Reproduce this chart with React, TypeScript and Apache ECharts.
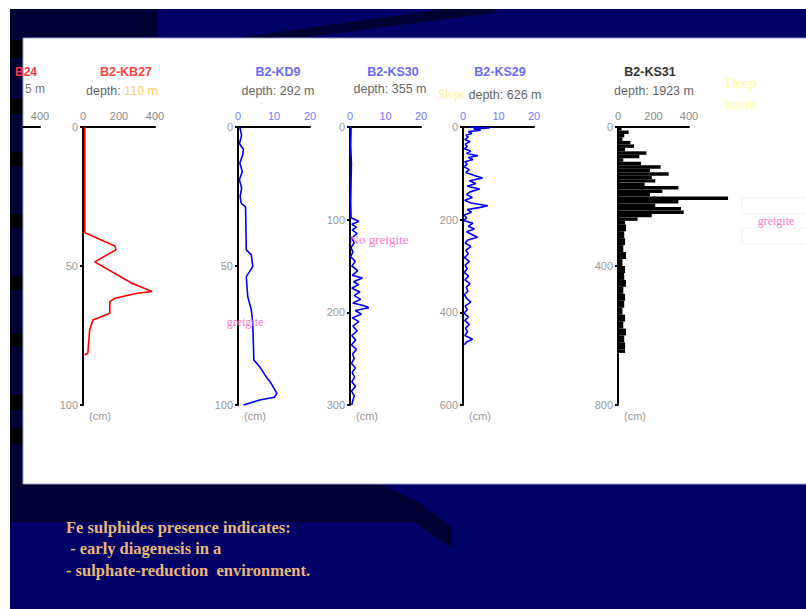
import React, { useEffect, useRef } from 'react';
import * as echarts from 'echarts';

// ---------- data ----------
const panelTitles = ['B2-KB27', 'B2-KD9', 'B2-KS30', 'B2-KS29', 'B2-KS31'];
const panelDepths = ['110 m', '292 m', '355 m', '626 m', '1923 m'];

// partially visible left profile (value, depth)
const kb24Value = [224, 253, 272, 282, 253, 224];
const kb24Depth = [62, 64, 66, 68.5, 70, 71.5];

const kb27Depth = [0, 38, 38.2, 42.8, 44.2, 48.5, 56.2, 59.2, 59.8, 61.6, 62.8, 67, 69.4, 73, 81.4, 82];
const kb27Value = [10, 10, 18, 177, 183, 65, 272, 384, 300, 177, 149, 149, 55, 37, 27, 8];

const kd9Depth = [0, 3, 6, 8, 10, 13, 16, 19, 22, 25, 27.5, 28.7, 44.2, 46, 50.2, 52, 53.8, 61, 65.8, 70.6, 83.8, 86.2, 89.8, 92.2, 95.8, 97.2, 98.2, 100];
const kd9Value = [0.5, 1.0, 0.4, 1.5, 1.3, 0.5, 1.2, 0.4, 1.0, 0.6, 0.9, 2.1, 2.3, 3.7, 4.1, 3.2, 2.3, 2.7, 3.7, 4.1, 4.4, 6.0, 7.8, 9.2, 10.8, 10.1, 6.0, 1.5];

const ks30Depth = [0, 20, 40, 60, 80, 98, 102, 105, 108, 111, 115, 120, 125, 130, 135, 140, 145, 150, 155, 160, 163, 167, 170, 174, 178, 182, 186, 190, 193, 195, 198, 202, 206, 210, 215, 220, 225, 230, 235, 240, 245, 250, 255, 260, 265, 270, 275, 280, 285, 290, 295, 300];
const ks30Value = [0.3, 0.2, 0.4, 0.3, 0.2, 0.3, 2.5, 0.5, 1.8, 0.6, 2.0, 0.4, 1.2, 0.3, 0.8, 0.2, 1.5, 0.5, 2.2, 0.6, 3.5, 1.0, 2.4, 0.5, 2.8, 1.2, 3.0, 0.8, 4.0, 5.3, 1.5, 3.2, 0.6, 2.5, 0.8, 2.0, 0.5, 1.6, 0.4, 1.8, 0.7, 1.2, 0.4, 1.5, 0.6, 1.3, 0.5, 1.6, 0.4, 1.2, 0.8, 0.5];

const ks29Depth = [0, 2, 4, 7, 10, 14, 18, 22, 27, 32, 37, 42, 47, 52, 57, 62, 66, 70, 75, 80, 86, 92, 98, 104, 110, 116, 122, 128, 134, 140, 146, 152, 158, 164, 170, 174, 178, 184, 190, 196, 202, 208, 214, 220, 226, 232, 238, 244, 250, 258, 266, 274, 282, 290, 298, 306, 314, 322, 330, 338, 346, 354, 362, 370, 378, 386, 394, 402, 410, 418, 426, 434, 442, 450, 458, 464, 470];
const ks29Value = [2, 7.5, 3, 5, 1.5, 2.5, 0.8, 1.5, 0.5, 2.0, 0.6, 1.2, 0.4, 2.2, 1.0, 4.2, 1.5, 2.8, 0.5, 1.2, 0.3, 1.8, 0.8, 3.0, 5.5, 1.8, 3.6, 1.2, 4.7, 2.0, 1.0, 2.6, 0.5, 2.2, 7.0, 4.5, 1.2, 2.4, 0.3, 1.0, 0.2, 2.8, 1.5, 3.2, 1.0, 2.5, 4.1, 1.4, 0.6, 2.2, 0.8, 1.5, 0.4, 1.8, 0.6, 1.2, 0.3, 1.6, 0.5, 2.0, 0.9, 1.4, 0.4, 1.0, 2.2, 0.6, 1.2, 0.3, 1.5, 0.5, 1.8, 0.7, 1.3, 0.5, 2.7, 1.0, 0.4];

const ks31Edges = [0, 10, 20, 30, 40, 50, 60, 70, 80, 90, 100, 110, 120, 130, 140, 150, 160, 170, 180, 190, 200, 210, 220, 230, 240, 250, 260, 270, 280, 300, 320, 340, 360, 380, 400, 420, 440, 460, 480, 500, 520, 540, 560, 580, 600, 620, 640, 650];
const ks31Value = [20, 60, 35, 25, 70, 90, 40, 160, 120, 30, 130, 240, 180, 285, 190, 210, 150, 340, 250, 180, 620, 340, 210, 355, 370, 190, 110, 40, 45, 35, 40, 30, 45, 25, 40, 35, 45, 30, 40, 35, 25, 40, 30, 45, 35, 40, 40];

// axis ranges: [xMin, xMax, xInterval, yMax, yInterval]
const axisRanges: number[][] = [
  [300, 400, 100, 100, 50],
  [0, 400, 200, 100, 50],
  [0, 20, 10, 100, 50],
  [0, 20, 10, 300, 100],
  [0, 20, 10, 600, 200],
  [0, 400, 200, 800, 400],
];

const bottomLines = ['Fe sulphides presence indicates:', ' - early diagenesis in a', '- sulphate-reduction  environment.'];

// ---------- layout ----------
const GRID_TOP = 127;
const GRID_H = 278;
const gridLayout = [
  { left: 23, width: 17 },
  { left: 83, width: 72 },
  { left: 238, width: 72 },
  { left: 350, width: 71 },
  { left: 463, width: 71 },
  { left: 618, width: 71 },
];
const labelColors = ['#888', '#888', '#7777ff', '#7777ff', '#7777ff', '#888'];
const titleColors = ['#ff3344', '#ff4444', '#6a6aff', '#6a6aff', '#6a6aff', '#333'];
const titlePos = [
  [126, 72, 122, 91],
  [278, 72, 278, 91],
  [393, 72, 390, 89],
  [500, 72, 505, 95],
  [650, 72, 654, 91],
];
const stripBars = [[40, 58], [99, 114], [152, 166], [214, 228], [276, 290], [333, 347], [395, 410], [428, 444]];

const SANS = '"Liberation Sans", Arial, sans-serif';
const SERIF = '"Liberation Serif", "Times New Roman", serif';

function pairs(v: number[], d: number[]) {
  return d.map((dd, i) => [v[i], dd]);
}

export default function App() {
  const ref = useRef<HTMLDivElement>(null);

  useEffect(() => {
    if (!ref.current) return;
    const chart = echarts.init(ref.current, null, { renderer: 'svg' });

    const grids = gridLayout.map((g) => ({ left: g.left, width: g.width, top: GRID_TOP, height: GRID_H, containLabel: false }));
    const xAxes = axisRanges.map((r, i) => ({
      type: 'value',
      gridIndex: i,
      position: 'top',
      min: r[0],
      max: r[1],
      interval: r[2],
      z: 5,
      axisLine: { show: true, onZero: false, lineStyle: { color: '#000', width: 2 } },
      axisTick: { show: false },
      splitLine: { show: false },
      axisLabel: { color: labelColors[i], fontSize: 11, fontFamily: SANS, margin: 6, showMinLabel: i !== 0 },
    }));
    const yAxes = axisRanges.map((r, i) => ({
      type: 'value',
      gridIndex: i,
      show: i !== 0,
      inverse: true,
      min: 0,
      max: r[3],
      interval: r[4],
      z: 5,
      axisLine: { show: true, onZero: false, lineStyle: { color: '#000', width: 2 } },
      axisTick: { show: true, length: 3, lineStyle: { color: '#000', width: 2 } },
      splitLine: { show: false },
      axisLabel: { color: '#999', fontSize: 11, fontFamily: SANS, margin: 5 },
    }));

    const lineSeries = (idx: number, data: number[][], color: string) => ({
      type: 'line',
      xAxisIndex: idx,
      yAxisIndex: idx,
      data,
      showSymbol: false,
      symbol: 'none',
      clip: false,
      z: 6,
      lineStyle: { color, width: 1.6 },
    });

    const ks31Data = ks31Value.map((v, i) => [ks31Edges[i], ks31Edges[i + 1], v]);

    const graphics: any[] = [];
    // slide background
    graphics.push({ type: 'rect', z: 0, shape: { x: 10, y: 9, width: 796, height: 600 }, style: { fill: '#000066' } });
    graphics.push({ type: 'rect', z: 0, shape: { x: 10, y: 9, width: 147, height: 29 }, style: { fill: '#000033' } });
    graphics.push({ type: 'polygon', z: 0, shape: { points: [[236, 38], [300, 38], [385, 27], [495, 13], [495, 9], [445, 9], [350, 22]] }, style: { fill: '#000033' } });
    graphics.push({ type: 'rect', z: 0, shape: { x: 10, y: 38, width: 13, height: 447 }, style: { fill: '#000033' } });
    stripBars.forEach(([a, b]) => {
      graphics.push({ type: 'rect', z: 0, shape: { x: 10, y: a, width: 13, height: b - a }, style: { fill: '#000000' } });
    });
    graphics.push({ type: 'polygon', z: 0, shape: { points: [[10, 484], [380, 484], [420, 503], [452, 528], [452, 547], [440, 540], [414, 522], [10, 522]] }, style: { fill: '#000033' } });
    graphics.push({ type: 'rect', z: 0, shape: { x: 23, y: 38, width: 790, height: 446 }, style: { fill: '#ffffff', stroke: '#9a9acc', lineWidth: 1 } });
    // faint boxes at right
    graphics.push({ type: 'rect', z: 1, shape: { x: 742, y: 198, width: 70, height: 16 }, style: { fill: 'none', stroke: '#f0f0f0', lineWidth: 1 } });
    graphics.push({ type: 'rect', z: 1, shape: { x: 742, y: 228, width: 70, height: 16 }, style: { fill: 'none', stroke: '#f0f0f0', lineWidth: 1 } });

    // partial left panel texts
    graphics.push({ type: 'text', z: 10, x: 37, y: 72, style: { text: 'B24', fill: titleColors[0], font: `bold 12px ${SANS}`, align: 'right', verticalAlign: 'middle' } });
    graphics.push({ type: 'text', z: 10, x: 45, y: 89, style: { text: '5 m', fill: '#777', font: `12px ${SANS}`, align: 'right', verticalAlign: 'middle' } });

    // titles
    panelTitles.forEach((t, i) => {
      const p = titlePos[i];
      graphics.push({ type: 'text', z: 10, x: p[0], y: p[1], style: { text: t, fill: titleColors[i + 1], font: `bold 12.5px ${SANS}`, align: 'center', verticalAlign: 'middle' } });
      graphics.push({
        type: 'text', z: 10, x: p[2], y: p[3],
        style: {
          text: `{a|depth: }{${i === 0 ? 'b' : 'a'}|${panelDepths[i]}}`,
          align: 'center', verticalAlign: 'middle',
          rich: {
            a: { fill: '#666', font: `12.5px ${SANS}` },
            b: { fill: '#ffcc66', font: `12.5px ${SANS}` },
          },
        },
      });
      const g = gridLayout[i + 1];
      graphics.push({ type: 'text', z: 10, x: g.left + 6, y: GRID_TOP + GRID_H + 11, style: { text: '(cm)', fill: '#999', font: `11px ${SANS}`, align: 'left', verticalAlign: 'middle' } });
    });

    // annotations
    graphics.push({ type: 'text', z: 10, x: 245, y: 322, style: { text: 'greigite', fill: '#ff77cc', font: `12px ${SERIF}`, align: 'center', verticalAlign: 'middle' } });
    graphics.push({ type: 'text', z: 10, x: 379, y: 239, style: { text: 'No greigite', fill: '#ff77cc', font: `13px ${SERIF}`, align: 'center', verticalAlign: 'middle' } });
    graphics.push({ type: 'text', z: 10, x: 776, y: 221, style: { text: 'greigite', fill: '#ff77cc', font: `12px ${SERIF}`, align: 'center', verticalAlign: 'middle' } });
    graphics.push({ type: 'text', z: 10, x: 438, y: 94, style: { text: 'Slope', fill: '#ffee99', font: `12px ${SERIF}`, align: 'left', verticalAlign: 'middle' } });
    graphics.push({ type: 'text', z: 10, x: 725, y: 83, style: { text: 'Deep', fill: '#ffff99', font: `15px ${SERIF}`, align: 'left', verticalAlign: 'middle' } });
    graphics.push({ type: 'text', z: 10, x: 725, y: 104, style: { text: 'basin', fill: '#ffff99', font: `15px ${SERIF}`, align: 'left', verticalAlign: 'middle' } });

    bottomLines.forEach((t, i) => {
      graphics.push({ type: 'text', z: 10, x: 66, y: 527 + i * 21.5, style: { text: t, fill: '#e9b679', font: `bold 16.5px ${SERIF}`, align: 'left', verticalAlign: 'middle' } });
    });

    chart.setOption({
      animation: false,
      backgroundColor: '#ffffff',
      grid: grids,
      xAxis: xAxes,
      yAxis: yAxes,
      graphic: { elements: graphics },
      series: [
        lineSeries(0, pairs(kb24Value, kb24Depth), '#ff0000'),
        lineSeries(1, pairs(kb27Value, kb27Depth), '#ff0000'),
        lineSeries(2, pairs(kd9Value, kd9Depth), '#0000ff'),
        lineSeries(3, pairs(ks30Value, ks30Depth), '#0000ff'),
        lineSeries(4, pairs(ks29Value, ks29Depth), '#0000ff'),
        {
          type: 'custom',
          xAxisIndex: 5,
          yAxisIndex: 5,
          z: 6,
          encode: { x: 2, y: [0, 1] },
          data: ks31Data,
          renderItem: (_params: any, api: any) => {
            const p0 = api.coord([0, api.value(0)]);
            const p1 = api.coord([api.value(2), api.value(1)]);
            return {
              type: 'rect',
              shape: { x: p0[0], y: p0[1], width: p1[0] - p0[0], height: p1[1] - p0[1] },
              style: { fill: '#000' },
            };
          },
        },
      ],
    });

    return () => chart.dispose();
  }, []);

  return <div ref={ref} style={{ position: 'fixed', left: 0, top: 0, width: 806, height: 609 }} />;
}
